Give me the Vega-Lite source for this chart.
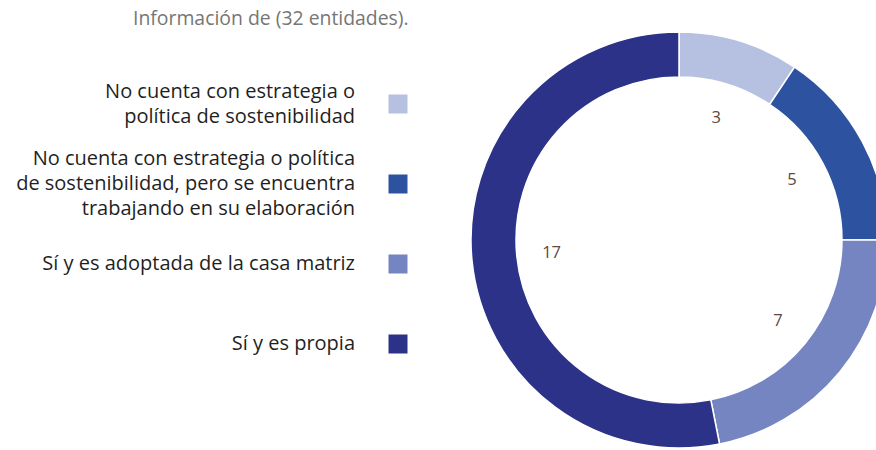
{
  "$schema": "https://vega.github.io/schema/vega-lite/v6.json",
  "autosize": "none",
  "width": 416,
  "height": 416,
  "padding": {"left": 471, "top": 32, "right": 0, "bottom": 0},
  "background": "white",
  "config": {
    "view": {"stroke": null},
    "font": "Open Sans",
    "style": {"guide-label": {"lineHeight": 12.5, "dy": -25}}
  },
  "title": {
    "text": "Información de (32 entidades).",
    "anchor": "start",
    "frame": "group",
    "dx": -338,
    "offset": 0,
    "fontSize": 19.4,
    "fontWeight": "normal",
    "color": "#767676",
    "font": "Open Sans"
  },
  "data": {
    "values": [
      {"categoria": "No cuenta con estrategia o política de sostenibilidad", "entidades": 3, "orden": 1},
      {"categoria": "No cuenta con estrategia o política de sostenibilidad, pero se encuentra trabajando en su elaboración", "entidades": 5, "orden": 2},
      {"categoria": "Sí y es adoptada de la casa matriz", "entidades": 7, "orden": 3},
      {"categoria": "Sí y es propia", "entidades": 17, "orden": 4}
    ]
  },
  "encoding": {
    "theta": {"field": "entidades", "type": "quantitative", "stack": true},
    "order": {"field": "orden", "type": "quantitative"}
  },
  "layer": [
    {
      "mark": {"type": "arc", "outerRadius": 208, "innerRadius": 163, "stroke": "white", "strokeWidth": 1.5},
      "encoding": {
        "color": {
          "field": "categoria",
          "type": "nominal",
          "sort": {"field": "orden"},
          "scale": {
            "domain": [
              "No cuenta con estrategia o política de sostenibilidad",
              "No cuenta con estrategia o política de sostenibilidad, pero se encuentra trabajando en su elaboración",
              "Sí y es adoptada de la casa matriz",
              "Sí y es propia"
            ],
            "range": ["#b6c1e2", "#2c52a0", "#7585c1", "#2b3288"]
          },
          "legend": {
            "orient": "none",
            "legendX": -83,
            "legendY": 62,
            "title": null,
            "padding": 0,
            "symbolType": "square",
            "symbolSize": 361,
            "symbolStrokeWidth": 0,
            "symbolOpacity": 1,
            "rowPadding": 10,
            "labelAlign": "right",
            "labelBaseline": "middle",
            "labelOffset": -53,
            "labelLimit": 500,
            "labelFont": "Open Sans",
            "labelFontSize": 20,
            "labelColor": "#1f1f1f",
            "labelExpr": "datum.value == 'No cuenta con estrategia o política de sostenibilidad' ? ['\u200b', 'No cuenta con estrategia o', '\u200b', 'política de sostenibilidad', '\u200b'] : datum.value == 'Sí y es adoptada de la casa matriz' ? ['\u200b', '\u200b', 'Sí y es adoptada de la casa matriz', '\u200b', '\u200b'] : datum.value == 'Sí y es propia' ? ['\u200b', '\u200b', 'Sí y es propia', '\u200b', '\u200b'] : ['No cuenta con estrategia o política', '\u200b', 'de sostenibilidad, pero se encuentra', '\u200b', 'trabajando en su elaboración']"
          }
        }
      }
    },
    {
      "mark": {"type": "text", "radius": 128, "fontSize": 16.5, "font": "Open Sans", "color": "#5b4a42"},
      "encoding": {
        "text": {"field": "entidades", "type": "quantitative"}
      }
    }
  ]
}
